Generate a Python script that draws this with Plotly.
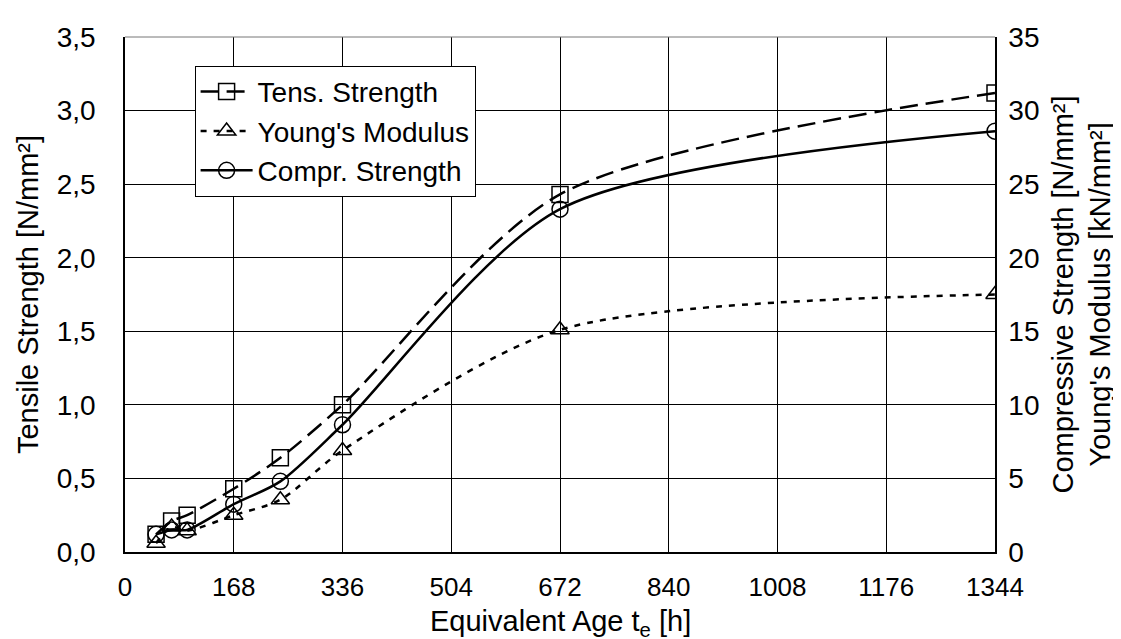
import plotly.graph_objects as go

# equivalent age [h]
age_h = [48, 72, 96, 168, 240, 336, 672, 1344]

# tensile strength [N/mm²] - left axis
tens_strength = [0.12, 0.21, 0.25, 0.43, 0.64, 1.00, 2.43, 3.12]
# young's modulus [kN/mm²] - right axis
youngs_modulus = [0.6, 1.7, 1.45, 2.5, 3.55, 6.9, 15.1, 17.5]
# compressive strength [N/mm²] - right axis
compr_strength = [1.2, 1.5, 1.5, 3.25, 4.8, 8.65, 23.3, 28.6]

x_ticks = [0, 168, 336, 504, 672, 840, 1008, 1176, 1344]
y_ticks = [0, 0.5, 1.0, 1.5, 2.0, 2.5, 3.0, 3.5]
y2_ticks = [0, 5, 10, 15, 20, 25, 30, 35]

FONT = "Liberation Sans, Arial, sans-serif"
SMOOTH = 0.8

fig = go.Figure()

fig.add_trace(go.Scatter(
    x=age_h, y=tens_strength, name="Tens. Strength",
    mode="lines+markers",
    line=dict(color="black", width=2.5, dash="18px,8px", shape="spline", smoothing=SMOOTH),
    marker=dict(symbol="square-open", size=16, color="black", line=dict(width=1.5)),
    yaxis="y"))

fig.add_trace(go.Scatter(
    x=age_h, y=youngs_modulus, name="Young's Modulus",
    mode="lines+markers",
    line=dict(color="black", width=2.5, dash="6px,7px", shape="spline", smoothing=SMOOTH),
    marker=dict(symbol="triangle-up-open", size=16, color="black", line=dict(width=1.5)),
    yaxis="y2"))

fig.add_trace(go.Scatter(
    x=age_h, y=compr_strength, name="Compr. Strength",
    mode="lines+markers",
    line=dict(color="black", width=2.5, shape="spline", smoothing=SMOOTH),
    marker=dict(symbol="circle-open", size=16, color="black", line=dict(width=1.5)),
    yaxis="y2"))

fig.update_layout(
    width=1121, height=639,
    margin=dict(l=117, r=134, t=29, b=95),
    paper_bgcolor="white", plot_bgcolor="white",
    separators=",.",
    font=dict(family=FONT, size=28, color="black"),
    showlegend=True,
    legend=dict(x=0.08, y=0.944, xanchor="left", yanchor="top",
                bgcolor="white", bordercolor="black", borderwidth=1,
                font=dict(size=28), itemwidth=52),
    xaxis=dict(range=[0, 1344], tickvals=x_ticks, showgrid=True,
               gridcolor="black", gridwidth=1, zeroline=False,
               showline=True, linecolor="black", linewidth=1.5,
               ticks="", ticklabelstandoff=11, tickfont=dict(size=26)),
    yaxis=dict(range=[0, 3.5], tickvals=y_ticks, tickformat=".1f",
               showgrid=True, gridcolor="black", gridwidth=1, zeroline=False,
               showline=True, linecolor="black", linewidth=1.5,
               ticks="inside", ticklen=8, tickcolor="black",
               ticklabelstandoff=22,
               title=dict(text="Tensile Strength [N/mm²]", standoff=10,
                          font=dict(size=29))),
    yaxis2=dict(range=[0, 35], tickvals=y2_ticks, overlaying="y", side="right",
                showgrid=False, zeroline=False,
                showline=True, linecolor="black", linewidth=1.5,
                ticks="inside", ticklen=8, tickcolor="black",
                ticklabelstandoff=6,
                title=dict(text="Compressive Strength [N/mm²]<br>Young's Modulus [kN/mm²]",
                           standoff=14, font=dict(size=29))),
    shapes=[dict(type="line", xref="paper", yref="paper", x0=0, x1=1, y0=1, y1=1,
                 line=dict(color="#777777", width=1))],
    annotations=[dict(text="Equivalent Age t<sub>e</sub> [h]", showarrow=False,
                      xref="paper", yref="paper", x=0.5, y=-0.137,
                      xanchor="center", yanchor="middle",
                      font=dict(size=29))],
)

fig.write_html("out.html")
